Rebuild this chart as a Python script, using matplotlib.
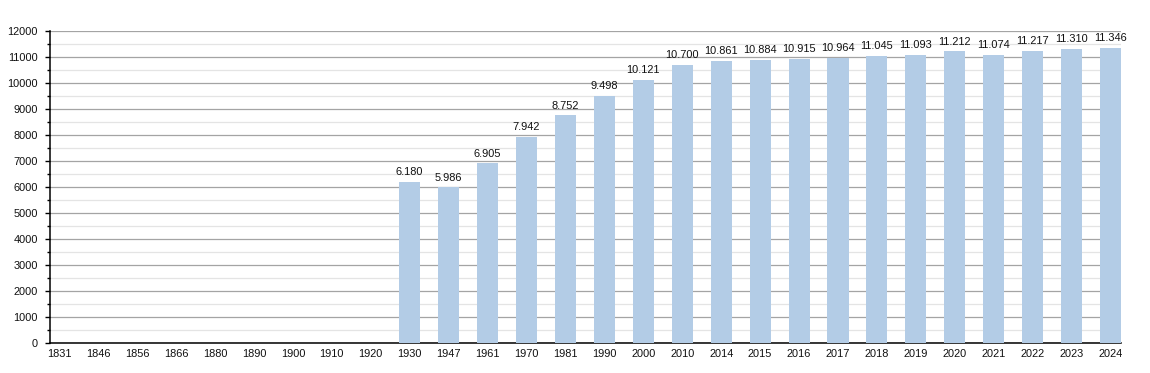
import matplotlib
matplotlib.use('Agg')
import matplotlib.pyplot as plt
from matplotlib.ticker import MultipleLocator

plt.rcParams['font.family'] = ['Liberation Sans', 'DejaVu Sans']

# Population by census year (no figure for the early years)
years = ['1831', '1846', '1856', '1866', '1880', '1890', '1900', '1910', '1920',
         '1930', '1947', '1961', '1970', '1981', '1990', '2000', '2010', '2014',
         '2015', '2016', '2017', '2018', '2019', '2020', '2021', '2022', '2023', '2024']
population = [None, None, None, None, None, None, None, None, None,
              6180, 5986, 6905, 7942, 8752, 9498, 10121, 10700, 10861,
              10884, 10915, 10964, 11045, 11093, 11212, 11074, 11217, 11310, 11346]

bar_color = '#b3cce6'
fs = 7.9

fig = plt.figure(figsize=(11.5, 3.73), dpi=100)
ax = fig.add_axes([0.0435, 0.0804, 0.9313, 0.8365])

xs = [i for i, v in enumerate(population) if v is not None]
vals = [v for v in population if v is not None]
ax.bar(xs, vals, width=0.54, color=bar_color, zorder=3)

for x, v in zip(xs, vals):
    label = f"{v:,}".replace(',', '.')
    ax.annotate(label, (x, v), xytext=(0, 3.5), textcoords='offset points',
                ha='center', va='bottom', fontsize=fs, color='#111111', zorder=4)

ax.set_xlim(-0.24, len(years) - 1 + 0.27)
ax.set_ylim(0, 12000)
ax.set_xticks(range(len(years)))
ax.set_xticklabels(years)
ax.yaxis.set_major_locator(MultipleLocator(1000))
ax.yaxis.set_minor_locator(MultipleLocator(500))

ax.grid(axis='y', which='major', color='#a4a4a4', linewidth=0.9, zorder=0)
ax.grid(axis='y', which='minor', color='#e4e4e4', linewidth=0.9, zorder=0)

for s in ['top', 'right']:
    ax.spines[s].set_visible(False)
ax.spines['left'].set_linewidth(1.1)
ax.spines['bottom'].set_linewidth(1.1)

ax.tick_params(axis='x', length=0, pad=4.5, labelsize=fs, labelcolor='#111111')
ax.tick_params(axis='y', which='major', length=3.6, width=1, pad=5, labelsize=fs,
               labelcolor='#111111')
ax.tick_params(axis='y', which='minor', length=2.5, width=1)

fig.savefig('out.png', dpi=100)
